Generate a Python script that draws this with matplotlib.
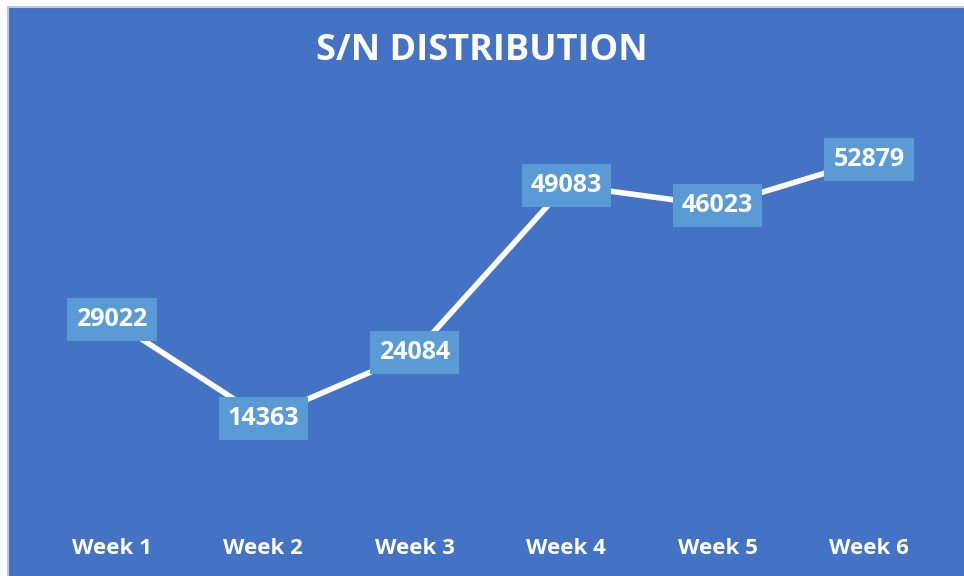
import matplotlib.pyplot as plt
from matplotlib.patches import Rectangle
from matplotlib.lines import Line2D

# Daten
weeks = ["Week 1", "Week 2", "Week 3", "Week 4", "Week 5", "Week 6"]
counts = [29022, 14363, 24084, 49083, 46023, 52879]

bg = "#4472C4"
box = "#5B9BD5"
plt.rcParams['font.family'] = ['Open Sans', 'DejaVu Sans']

fig = plt.figure(figsize=(9.64, 5.76), dpi=100, facecolor="white")

# Hintergrund der Diagrammflaeche (Rahmen nur links und oben sichtbar)
x0, y1 = 8 / 964, 1 - 7 / 576
fig.add_artist(Rectangle((x0, 0), 1 - x0, y1, transform=fig.transFigure,
                         facecolor=bg, edgecolor="none", zorder=-5))
fig.add_artist(Line2D([x0, x0, 1], [0, y1, y1], transform=fig.transFigure,
                      color="#C8C8C8", linewidth=1.5, zorder=-4))

ax = fig.add_axes([0.0377, 0.1066, 0.9423, 0.699])
ax.set_zorder(2)
ax.set_facecolor("none")
x = range(len(weeks))
ax.plot(x, counts, color="white", linewidth=4, solid_capstyle="butt", zorder=2)

for xi, v in zip(x, counts):
    ax.text(xi, v, str(v), ha="center", va="center", color="white",
            fontsize=18, fontweight="bold", zorder=3,
            bbox=dict(boxstyle="square,pad=0.36", facecolor=box, edgecolor="none"))

ax.set_xlim(-0.5, 5.5)
ax.set_ylim(0, 60000)
ax.set_yticks([])
ax.set_xticks(list(x))
ax.set_xticklabels(weeks, color="white", fontsize=16, fontweight="bold")
ax.tick_params(axis="x", length=0, pad=17)
for s in ax.spines.values():
    s.set_visible(False)

fig.text(0.5, 1 - 51 / 576, "S/N DISTRIBUTION", ha="center", va="center",
         color="white", fontsize=26, fontweight="bold", zorder=3)

fig.savefig("out.png", dpi=100)
